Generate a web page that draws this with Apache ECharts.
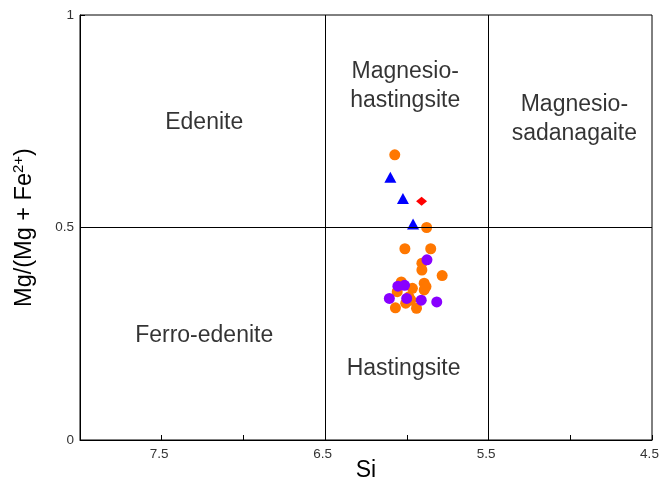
<!DOCTYPE html>
<html>
<head>
<meta charset="utf-8">
<script src="https://cdn.jsdelivr.net/npm/echarts@6/dist/echarts.min.js"></script>
<style>html,body{margin:0;padding:0;background:#fff}#c{width:659px;height:485px}</style>
</head>
<body>
<div id="c"></div>
<script>
// Data (Si, Mg/(Mg+Fe2+))
var orangeData = [
  [6.074,0.671],[5.879,0.500],[6.012,0.450],[5.854,0.450],[5.908,0.416],[5.908,0.400],
  [5.784,0.387],[6.034,0.372],[5.894,0.369],[5.883,0.361],[5.894,0.353],[5.966,0.357],
  [6.059,0.349],[5.987,0.337],[6.070,0.311],[6.007,0.322],[5.941,0.310],[5.975,0.329]
];
var purpleData = [
  [5.877,0.424],[6.055,0.362],[6.014,0.364],[6.107,0.333],[6.001,0.333],[5.912,0.329],[5.817,0.325]
];
var blueData = [[6.101,0.618],[6.024,0.568],[5.962,0.508]];
var redData = [[5.910,0.562]];
var xTickLabels = ['7.5','6.5','5.5','4.5'];
var yTickLabels = ['0','0.5','1'];
var vBoundaries = [6.5, 5.5];
var hBoundaries = [0.5];
var regionLabels = [
  {name:'Edenite', value:[7.24,0.746]},
  {name:'Magnesio-\nhastingsite', value:[6.01,0.832]},
  {name:'Magnesio-\nsadanagaite', value:[4.975,0.754]},
  {name:'Ferro-edenite', value:[7.24,0.245]},
  {name:'Hastingsite', value:[6.02,0.167]}
];

var chart = echarts.init(document.getElementById('c'));
var ff = 'Liberation Sans, Arial, sans-serif';
var markLines = vBoundaries.map(function(v){return {xAxis:v};})
  .concat(hBoundaries.map(function(v){return {yAxis:v};}));
chart.setOption({
  animation:false,
  grid:{left:80,right:7,top:15,bottom:45,show:true,borderColor:'#000',borderWidth:1,
    containLabel:false,outerBoundsMode:'none'},
  xAxis:{
    type:'value', min:4.5, max:8, interval:0.5, inverse:true,
    name:'Si', nameLocation:'middle', nameGap:19, nameMoveOverlap:false,
    nameTextStyle:{fontSize:23,color:'#000',fontFamily:ff,verticalAlign:'top'},
    axisLine:{show:true,lineStyle:{color:'#000'}},
    axisTick:{show:true,inside:true,length:5,lineStyle:{color:'#000'}},
    splitLine:{show:false},
    axisLabel:{color:'#333',fontSize:13.5,fontFamily:ff,margin:7,padding:[0,5,0,0],
      formatter:function(v){var s=v.toFixed(1);return xTickLabels.indexOf(s)>=0?s:'';}}
  },
  yAxis:{
    type:'value', min:0, max:1, interval:0.5,
    name:'{a|Mg/(Mg + Fe}{s|2+}{a|)}', nameLocation:'middle', nameGap:42, nameMoveOverlap:false,
    nameTextStyle:{rich:{
      a:{fontSize:23.5,color:'#000',fontFamily:ff},
      s:{fontSize:15,color:'#000',fontFamily:ff,padding:[0,0,12,0]}
    }},
    axisLine:{show:true,lineStyle:{color:'#000'}},
    axisTick:{show:true,inside:true,length:5,lineStyle:{color:'#000'}},
    splitLine:{show:false},
    axisLabel:{color:'#333',fontSize:13.5,fontFamily:ff,margin:6,
      formatter:function(v){var s=String(v);return yTickLabels.indexOf(s)>=0?s:'';}}
  },
  series:[
    {type:'scatter',data:regionLabels,symbolSize:0,silent:true,
      label:{show:true,position:'inside',formatter:'{b}',fontSize:23,color:'#000',fontFamily:ff,lineHeight:29,align:'center'},
      markLine:{silent:true,symbol:'none',label:{show:false},lineStyle:{color:'#000',width:1,type:'solid'},data:markLines}},
    {type:'scatter',data:orangeData,symbol:'circle',symbolSize:11,itemStyle:{color:'#FF7700',opacity:1}},
    {type:'scatter',data:purpleData,symbol:'circle',symbolSize:11,itemStyle:{color:'#8800FF',opacity:1}},
    {type:'scatter',data:blueData,symbol:'triangle',symbolSize:[12,11],itemStyle:{color:'#0000FF',opacity:1}},
    {type:'scatter',data:redData,symbol:'diamond',symbolSize:[11,9],itemStyle:{color:'#FF0000',opacity:1}}
  ]
});
</script>
</body>
</html>
